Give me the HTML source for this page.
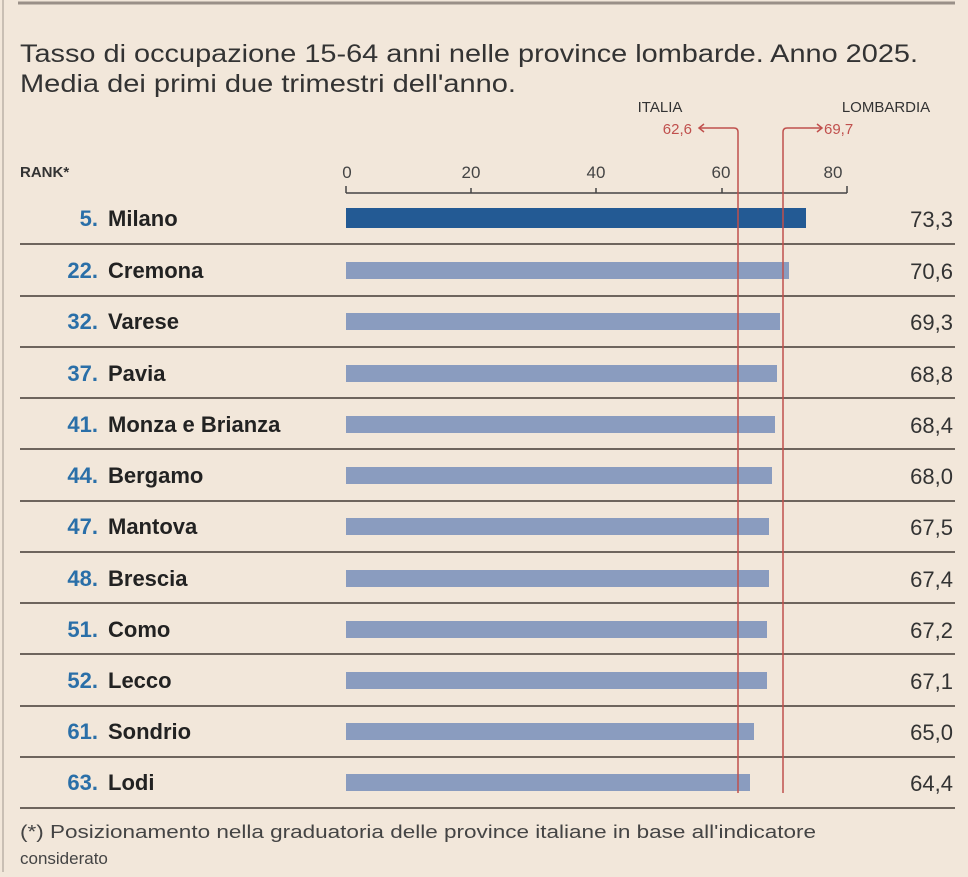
<!DOCTYPE html>
<html><head><meta charset="utf-8"><style>
body{margin:0;width:968px;height:872px;background:#f2e7da;overflow:hidden;font-family:"Liberation Sans",sans-serif;}
</style></head><body>
<svg width="968" height="872" xmlns="http://www.w3.org/2000/svg" font-family="Liberation Sans, sans-serif">
<rect width="968" height="872" fill="#f2e7da"/>
<line x1="18" y1="3" x2="955" y2="3" stroke="#9a9088" stroke-width="3"/>
<line x1="3" y1="0" x2="3" y2="872" stroke="#c9bfb4" stroke-width="2"/>
<text x="20" y="62" font-size="25" fill="#333" textLength="898" lengthAdjust="spacingAndGlyphs">Tasso di occupazione 15-64 anni nelle province lombarde. Anno 2025.</text>
<text x="20" y="92" font-size="25" fill="#333" textLength="496" lengthAdjust="spacingAndGlyphs">Media dei primi due trimestri dell'anno.</text>
<text x="660" y="112" font-size="15" fill="#333" text-anchor="middle">ITALIA</text>
<text x="886" y="112" font-size="15" fill="#333" text-anchor="middle">LOMBARDIA</text>
<text x="692" y="134" font-size="15" fill="#c0504d" text-anchor="end">62,6</text>
<text x="824" y="134" font-size="15" fill="#c0504d">69,7</text>
<text x="20" y="177" font-size="15" font-weight="bold" fill="#333">RANK*</text>
<g font-size="17" fill="#444" text-anchor="middle">
<text x="347" y="178">0</text><text x="471" y="178">20</text><text x="596" y="178">40</text><text x="721" y="178">60</text><text x="833" y="178">80</text>
</g>
<line x1="346" y1="193" x2="847" y2="193" stroke="#444" stroke-width="1.5"/>
<g stroke="#444" stroke-width="1.5"><line x1="346" y1="186" x2="346" y2="193"/><line x1="471" y1="188" x2="471" y2="193"/><line x1="596" y1="188" x2="596" y2="193"/><line x1="722" y1="188" x2="722" y2="193"/><line x1="847" y1="186" x2="847" y2="193"/></g>
<g fill="#8a9cbf">
<rect x="346" y="208" width="460" height="20" fill="#235a94"/>
<rect x="346" y="262" width="443" height="17"/>
<rect x="346" y="313" width="434" height="17"/>
<rect x="346" y="365" width="431" height="17"/>
<rect x="346" y="416" width="429" height="17"/>
<rect x="346" y="467" width="426" height="17"/>
<rect x="346" y="518" width="423" height="17"/>
<rect x="346" y="570" width="423" height="17"/>
<rect x="346" y="621" width="421" height="17"/>
<rect x="346" y="672" width="421" height="17"/>
<rect x="346" y="723" width="408" height="17"/>
<rect x="346" y="774" width="404" height="17"/>
</g>
<g stroke="#6e655d" stroke-width="2">
<line x1="20" y1="244" x2="955" y2="244"/><line x1="20" y1="296" x2="955" y2="296"/><line x1="20" y1="347" x2="955" y2="347"/><line x1="20" y1="398" x2="955" y2="398"/><line x1="20" y1="449" x2="955" y2="449"/><line x1="20" y1="501" x2="955" y2="501"/><line x1="20" y1="552" x2="955" y2="552"/><line x1="20" y1="603" x2="955" y2="603"/><line x1="20" y1="654" x2="955" y2="654"/><line x1="20" y1="706" x2="955" y2="706"/><line x1="20" y1="757" x2="955" y2="757"/><line x1="20" y1="808" x2="955" y2="808"/>
</g>
<g stroke="#c0504d" stroke-width="1.5" fill="none">
<path d="M738 793 V132 Q738 128 734 128 H700"/><path d="M704 124 L699 128 L704 132"/>
<path d="M783 793 V132 Q783 128 787 128 H822"/><path d="M817 124 L822 128 L817 132"/>
</g>
<g font-size="22" font-weight="bold">
<g fill="#2a6fa8" text-anchor="end">
<text x="98" y="226">5.</text><text x="98" y="278">22.</text><text x="98" y="329">32.</text><text x="98" y="381">37.</text><text x="98" y="432">41.</text><text x="98" y="483">44.</text><text x="98" y="534">47.</text><text x="98" y="586">48.</text><text x="98" y="637">51.</text><text x="98" y="688">52.</text><text x="98" y="739">61.</text><text x="98" y="790">63.</text>
</g>
<g fill="#222">
<text x="108" y="226">Milano</text><text x="108" y="278">Cremona</text><text x="108" y="329">Varese</text><text x="108" y="381">Pavia</text><text x="108" y="432">Monza e Brianza</text><text x="108" y="483">Bergamo</text><text x="108" y="534">Mantova</text><text x="108" y="586">Brescia</text><text x="108" y="637">Como</text><text x="108" y="688">Lecco</text><text x="108" y="739">Sondrio</text><text x="108" y="790">Lodi</text>
</g>
</g>
<g font-size="22" fill="#333" text-anchor="end">
<text x="953" y="227">73,3</text><text x="953" y="279">70,6</text><text x="953" y="330">69,3</text><text x="953" y="382">68,8</text><text x="953" y="433">68,4</text><text x="953" y="484">68,0</text><text x="953" y="535">67,5</text><text x="953" y="587">67,4</text><text x="953" y="638">67,2</text><text x="953" y="689">67,1</text><text x="953" y="740">65,0</text><text x="953" y="791">64,4</text>
</g>
<text x="20" y="838" font-size="18" fill="#444" textLength="796" lengthAdjust="spacingAndGlyphs">(*) Posizionamento nella graduatoria delle province italiane in base all'indicatore</text>
<text x="20" y="864" font-size="17" fill="#444">considerato</text>
</svg>
</body></html>
